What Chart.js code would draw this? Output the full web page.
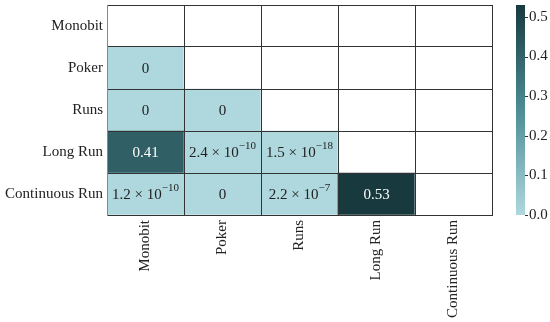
<!DOCTYPE html>
<html>
<head>
<meta charset="utf-8">
<script src="https://cdn.jsdelivr.net/npm/chart.js@4"></script>
<style>
  html, body { margin: 0; padding: 0; background: #ffffff; }
  #contenedor { width: 550px; height: 322px; }
</style>
</head>
<body>
<div id="contenedor"><canvas id="myChart"></canvas></div>
<script>
const etiquetas = ["Monobit", "Poker", "Runs", "Long Run", "Continuous Run"]
// triangulo inferior, fila por fila
const valoresMonobit = []
const valoresPoker = [0]
const valoresRuns = [0, 0]
const valoresLongRun = [0.41, 2.4e-10, 1.5e-18]
const valoresContinuousRun = [1.2e-10, 0, 2.2e-7, 0.53]
const ticksBarra = [0.0, 0.1, 0.2, 0.3, 0.4, 0.5]
const maximoBarra = 0.53

const filas = [valoresMonobit, valoresPoker, valoresRuns, valoresLongRun, valoresContinuousRun]
const fuente = "'Liberation Serif', 'Times New Roman', serif"

// colores de la escala (claro -> oscuro)
const paradas = [
  [0.0, [174, 216, 221]],
  [0.5, [76, 141, 150]],
  [1.0, [24, 58, 63]]
]

function colorDeValor(v) {
  let t = Math.max(0, Math.min(1, v / maximoBarra))
  for (let i = 1; i < paradas.length; i++) {
    if (t <= paradas[i][0]) {
      const a = paradas[i - 1], b = paradas[i]
      const f = (t - a[0]) / (b[0] - a[0])
      const c = a[1].map((x, k) => Math.round(x + f * (b[1][k] - x)))
      return "rgb(" + c.join(",") + ")"
    }
  }
  return "rgb(" + paradas[paradas.length - 1][1].join(",") + ")"
}

// una serie por fila, apiladas desde abajo
const series = []
for (let r = filas.length - 1; r >= 0; r--) {
  series.push({
    label: etiquetas[r],
    data: etiquetas.map(() => 1),
    backgroundColor: etiquetas.map((_, c) => c < filas[r].length ? colorDeValor(filas[r][c]) : "#ffffff"),
    borderWidth: 0,
    barPercentage: 1,
    categoryPercentage: 1,
    stack: "celdas"
  })
}

function textoDeValor(v) {
  if (v === 0) return { base: "0", sup: "" }
  if (v >= 0.01) return { base: v.toFixed(2), sup: "" }
  const partes = v.toExponential(1).split("e")
  return { base: partes[0] + " \u00d7 10", sup: "\u2212" + partes[1].replace("-", "") }
}

const textoCeldas = {
  id: "textoCeldas",
  afterDraw(chart) {
    const ctx = chart.ctx
    const ejeX = chart.scales.x
    const ejeFilas = chart.scales.filas
    ctx.save()
    ctx.textBaseline = "alphabetic"
    ctx.textAlign = "left"
    filas.forEach((fila, r) => {
      fila.forEach((v, c) => {
        const cx = ejeX.getPixelForValue(c)
        const cy = ejeFilas.getPixelForValue(r)
        const t = textoDeValor(v)
        ctx.font = "15px " + fuente
        const wBase = ctx.measureText(t.base).width
        ctx.font = "11px " + fuente
        const wSup = t.sup ? ctx.measureText(t.sup).width : 0
        const x0 = cx - (wBase + wSup) / 2
        ctx.fillStyle = v > 0.3 ? "#ffffff" : "#222222"
        ctx.font = "15px " + fuente
        ctx.fillText(t.base, x0, cy + 5)
        if (t.sup) {
          ctx.font = "11px " + fuente
          ctx.fillText(t.sup, x0 + wBase, cy - 3)
        }
      })
    })
    ctx.restore()
  }
}

const barraColor = {
  id: "barraColor",
  afterDraw(chart) {
    const ctx = chart.ctx
    const b = chart.scales.barra
    const x0 = b.left + 24
    const ancho = 9
    const yArriba = b.getPixelForValue(maximoBarra)
    const yAbajo = b.getPixelForValue(0)
    const grad = ctx.createLinearGradient(0, yAbajo, 0, yArriba)
    paradas.forEach((p) => grad.addColorStop(p[0], "rgb(" + p[1].join(",") + ")"))
    ctx.save()
    ctx.fillStyle = grad
    ctx.fillRect(x0, yArriba, ancho, yAbajo - yArriba)
    ctx.strokeStyle = "#333333"
    ctx.lineWidth = 1
    b.ticks.forEach((t) => {
      const y = Math.round(b.getPixelForValue(t.value)) + 0.5
      ctx.beginPath()
      ctx.moveTo(x0 + ancho, y)
      ctx.lineTo(x0 + ancho + 3, y)
      ctx.stroke()
    })
    ctx.restore()
  }
}

const colorLinea = "#333333"

const config = {
  type: "bar",
  data: {
    labels: etiquetas,
    datasets: series
  },
  options: {
    responsive: true,
    maintainAspectRatio: false,
    animation: false,
    layout: { padding: { top: 5, left: 0, right: 0, bottom: 0 } },
    plugins: {
      legend: { display: false },
      tooltip: { enabled: false }
    },
    scales: {
      x: {
        type: "category",
        offset: true,
        grid: { offset: true, color: colorLinea, lineWidth: 1, drawTicks: false, z: 1 },
        border: { display: true, color: colorLinea, z: 1 },
        ticks: {
          minRotation: 90,
          maxRotation: 90,
          padding: 5,
          color: "#222222",
          font: { family: fuente, size: 15 }
        },
        afterFit(scale) { scale.height = 107 }
      },
      y: {
        type: "linear",
        stacked: true,
        min: 0,
        max: 5,
        ticks: { display: false, stepSize: 1 },
        grid: { color: colorLinea, lineWidth: 1, drawTicks: false, z: 1 },
        border: { display: true, color: "#888888", z: 1 },
        afterFit(scale) { scale.width = 0; scale.paddingTop = 0; scale.paddingBottom = 0 }
      },
      filas: {
        type: "category",
        position: "left",
        labels: etiquetas,
        offset: true,
        weight: 1,
        grid: { display: false, drawTicks: false },
        border: { display: false },
        ticks: {
          padding: 4,
          color: "#222222",
          font: { family: fuente, size: 15 }
        },
        afterFit(scale) { scale.width = 107; scale.paddingTop = 0; scale.paddingBottom = 0 }
      },
      barra: {
        type: "linear",
        position: "right",
        min: 0,
        max: maximoBarra,
        grid: { drawOnChartArea: false, drawTicks: true, tickLength: 36, tickColor: "rgba(0,0,0,0)" },
        border: { display: false },
        afterBuildTicks(scale) { scale.ticks = ticksBarra.map((v) => ({ value: v })) },
        ticks: {
          padding: 1,
          color: "#222222",
          font: { family: fuente, size: 15 },
          callback: (v) => Number(v).toFixed(1)
        },
        afterFit(scale) { scale.width = 58; scale.paddingTop = 0; scale.paddingBottom = 0 }
      }
    }
  },
  plugins: [textoCeldas, barraColor]
}

const graficaDOM = document.getElementById("myChart")
new Chart(graficaDOM, config)
</script>
</body>
</html>
